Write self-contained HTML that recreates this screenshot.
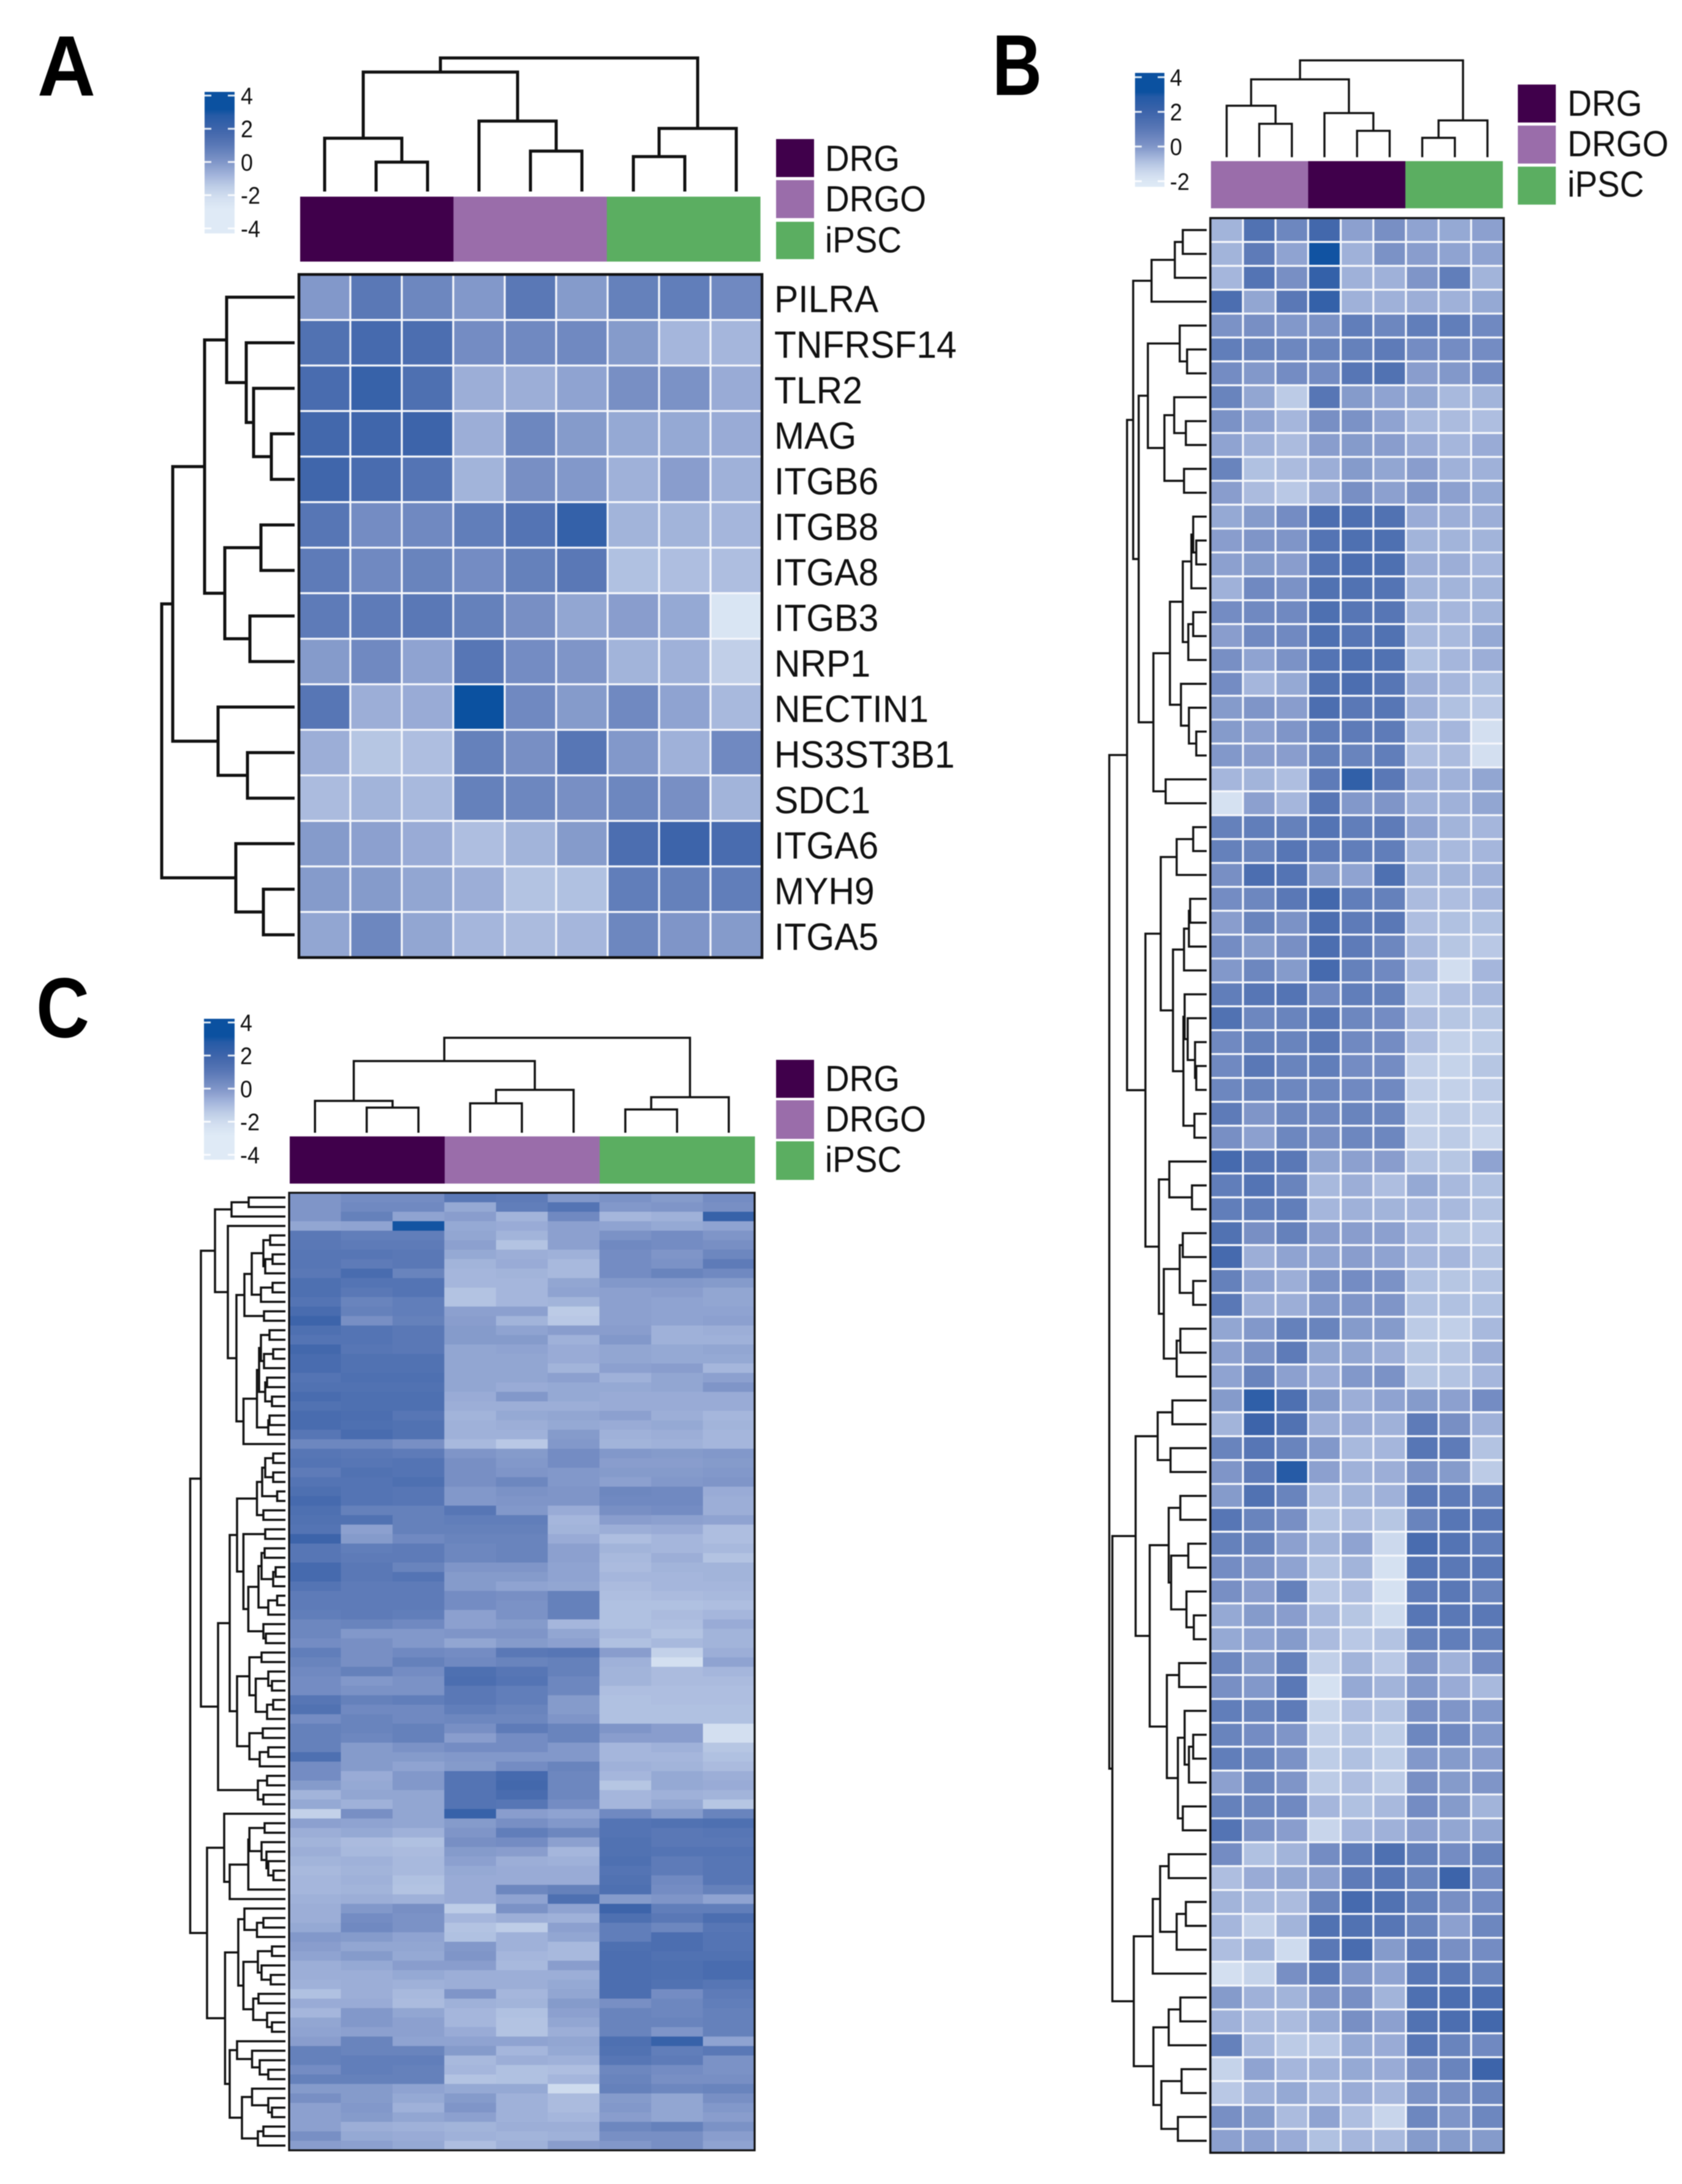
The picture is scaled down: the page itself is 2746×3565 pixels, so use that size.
<!DOCTYPE html>
<html lang="en">
<head>
<meta charset="utf-8">
<title>Clustered heatmaps A, B and C</title>
<style>
html,body{margin:0;padding:0;background:#fff;width:2746px;height:3565px;overflow:hidden}
svg{display:block;font-family:"Liberation Sans",sans-serif;filter:blur(0.8px)}
.legend-text{font-size:59px;fill:#111}
.panel-letter{font-weight:700;fill:#000}
</style>
</head>
<body>
<svg id="fig" xmlns="http://www.w3.org/2000/svg" width="2746" height="3565" viewBox="0 0 2746 3565">
  <defs id="defs"></defs>
  <rect width="2746" height="3565" fill="#fff"/>

  <text class="panel-letter" font-size="140" x="61" y="156" textLength="95" lengthAdjust="spacingAndGlyphs">A</text>
  <text class="panel-letter" font-size="141" x="1620" y="155" textLength="81" lengthAdjust="spacingAndGlyphs">B</text>
  <text class="panel-letter" font-size="139" x="59" y="1693" textLength="87" lengthAdjust="spacingAndGlyphs">C</text>

  <g>
    <rect x="1267" y="227" width="62" height="62" fill="#40004b"/>
    <text class="legend-text" x="1347" y="279" textLength="122" lengthAdjust="spacingAndGlyphs">DRG</text>
    <rect x="1267" y="294" width="62" height="62" fill="#9a6daa"/>
    <text class="legend-text" x="1347" y="345" textLength="165" lengthAdjust="spacingAndGlyphs">DRGO</text>
    <rect x="1267" y="362" width="62" height="61" fill="#5bae61"/>
    <text class="legend-text" x="1347" y="412" textLength="125" lengthAdjust="spacingAndGlyphs">iPSC</text>
  </g>
  <g>
    <rect x="2478" y="138" width="62" height="62" fill="#40004b"/>
    <text class="legend-text" x="2559" y="189" textLength="122" lengthAdjust="spacingAndGlyphs">DRG</text>
    <rect x="2478" y="205" width="62" height="62" fill="#9a6daa"/>
    <text class="legend-text" x="2559" y="255" textLength="165" lengthAdjust="spacingAndGlyphs">DRGO</text>
    <rect x="2478" y="272" width="62" height="62" fill="#5bae61"/>
    <text class="legend-text" x="2559" y="321" textLength="125" lengthAdjust="spacingAndGlyphs">iPSC</text>
  </g>
  <g>
    <rect x="1267" y="1730" width="62" height="62" fill="#40004b"/>
    <text class="legend-text" x="1347" y="1781" textLength="122" lengthAdjust="spacingAndGlyphs">DRG</text>
    <rect x="1267" y="1796" width="62" height="63" fill="#9a6daa"/>
    <text class="legend-text" x="1347" y="1847" textLength="165" lengthAdjust="spacingAndGlyphs">DRGO</text>
    <rect x="1267" y="1863" width="62" height="63" fill="#5bae61"/>
    <text class="legend-text" x="1347" y="1913" textLength="125" lengthAdjust="spacingAndGlyphs">iPSC</text>
  </g>
</svg>

<script>
var geneLabels = ['PILRA','TNFRSF14','TLR2','MAG','ITGB6','ITGB8','ITGA8','ITGB3','NRP1','NECTIN1','HS3ST3B1','SDC1','ITGA6','MYH9','ITGA5'];

var colorbarTicksAC = [4,2,0,-2,-4];
var colorbarTicksB = [4,2,0,-2];

var annotationOrderAC = ['DRG','DRGO','iPSC'];
var annotationOrderB = ['DRGO','DRG','iPSC'];

var valuesA = [
[-0.1,1.0,0.5,-0.1,1.0,-0.2,0.7,0.8,0.4],
[1.3,1.7,1.5,0.3,0.4,0.4,-0.2,-1.2,-1.2],
[1.6,2.2,1.4,-0.9,-0.9,-0.5,0.2,0.1,-0.8],
[1.8,1.9,2.0,-0.9,0.5,-0.2,-0.7,-0.7,-0.8],
[1.9,1.6,1.2,-1.1,0.2,-0.1,-1.0,-0.3,-1.0],
[1.1,0.3,0.4,0.8,1.2,2.3,-1.1,-1.1,-1.2],
[0.9,0.4,0.6,0.3,0.7,1.0,-1.6,-1.5,-1.5],
[0.9,0.9,1.0,0.7,0.2,-0.6,-0.3,-0.7,-3.5],
[-0.2,0.4,-0.5,1.1,0.3,0.0,-1.1,-1.0,-2.2],
[1.1,-0.9,-0.8,4.0,0.4,-0.2,0.4,-0.5,-1.3],
[-0.9,-1.8,-1.5,0.7,0.2,1.1,-0.1,-1.0,0.4],
[-1.4,-1.1,-1.3,0.7,0.5,0.2,0.5,0.2,-1.1],
[-0.2,-0.4,-0.8,-1.5,-1.1,-0.2,1.5,2.0,1.6],
[-0.2,-0.2,-0.6,-0.9,-1.7,-1.6,0.8,0.7,0.8],
[-0.6,0.5,-0.6,-1.2,-1.4,-1.2,0.5,0.0,-0.2]
];

var valuesB = [
[-1.1,1.3,0.5,1.8,-0.4,0.2,-0.5,-0.7,-0.4],
[-1.1,0.9,-0.5,3.7,-1.0,0.1,-0.3,-0.5,-0.5],
[-1.2,1.2,0.2,2.3,-1.0,-1.0,0.0,0.8,-1.1],
[1.5,-0.6,1.0,2.3,-1.0,-1.0,-0.9,-1.0,-0.7],
[0.1,0.2,-0.1,0.1,0.8,0.5,0.8,0.8,0.4],
[0.8,0.6,0.5,0.6,0.7,0.9,0.3,0.3,0.3],
[0.3,-0.1,0.3,0.3,1.1,1.3,-0.3,-0.1,0.3],
[0.6,-0.6,-2.0,1.1,-0.2,-0.5,-0.6,-1.3,-1.1],
[0.1,-0.5,-1.2,0.2,0.1,-0.5,-1.3,-1.4,-1.5],
[-0.5,-1.0,-1.4,-0.3,-0.2,-0.3,-0.8,-1.2,-0.8],
[0.6,-1.6,-1.4,-0.9,-0.2,-0.6,-0.3,-1.0,-1.0],
[-0.3,-1.4,-1.9,-0.9,0.2,-0.4,0.0,-0.4,-0.7],
[-0.7,-0.2,0.3,1.5,1.4,1.3,-0.8,-0.9,-0.9],
[-0.3,0.0,0.0,1.2,1.4,1.4,-1.1,-1.1,-1.1],
[-0.4,-0.2,-0.3,1.2,1.5,1.4,-0.9,-0.9,-1.2],
[-1.0,0.4,0.1,1.3,1.3,1.2,-1.1,-1.1,-1.1],
[0.3,0.4,0.4,1.4,1.1,1.1,-1.1,-1.2,-1.1],
[-0.3,0.4,0.4,1.4,1.1,1.3,-1.3,-1.3,-0.7],
[0.2,-0.5,0.1,1.2,1.4,1.3,-1.6,-1.2,-0.9],
[0.3,-1.2,-0.7,1.3,1.5,1.1,-0.9,-1.2,-1.6],
[-0.2,0.0,-0.3,1.5,1.0,1.1,-1.0,-1.6,-1.9],
[-0.2,-0.4,0.0,0.8,0.9,0.9,-1.3,-1.2,-3.0],
[-0.1,-0.3,-0.3,0.7,0.6,0.8,-1.5,-1.4,-3.0],
[-1.2,-1.1,-1.5,0.9,2.4,1.0,-0.9,-1.0,-0.6],
[-3.2,-0.4,-1.2,1.1,-0.1,0.0,-1.0,-1.0,-0.6],
[0.7,0.8,0.7,1.2,0.8,0.9,-0.5,-1.1,-1.2],
[0.7,0.6,1.1,0.9,0.8,0.8,-1.1,-1.3,-1.2],
[0.2,1.5,1.2,-0.2,-0.5,1.4,-1.1,-1.1,-1.0],
[0.3,0.5,1.0,1.8,0.8,0.7,-1.4,-1.5,-1.2],
[-0.3,0.6,0.1,1.5,0.9,1.0,-1.5,-1.6,-1.6],
[0.3,-0.2,0.2,1.5,0.9,0.5,-1.3,-1.8,-1.9],
[-0.1,0.5,-0.2,1.7,0.7,0.4,-1.3,-2.9,-1.2],
[0.8,1.1,1.2,0.4,0.8,0.7,-1.9,-1.5,-1.3],
[1.3,0.5,0.6,1.1,0.5,0.3,-1.4,-1.8,-1.8],
[0.4,0.7,0.6,1.0,0.4,0.3,-1.5,-2.3,-2.1],
[0.4,1.0,0.6,0.8,0.3,0.3,-2.2,-2.4,-1.8],
[0.5,0.6,0.5,0.5,0.4,0.4,-2.2,-2.3,-2.0],
[0.9,0.0,0.5,0.4,0.6,0.5,-2.2,-2.0,-2.2],
[0.2,-0.4,0.5,0.2,0.5,0.5,-2.2,-2.0,-2.5],
[1.7,1.1,1.0,-0.6,-0.4,-0.3,-1.7,-1.8,-0.5],
[0.8,1.2,0.6,-1.3,-0.9,-1.5,-0.7,-1.3,-1.6],
[0.8,0.8,0.8,-1.2,-1.0,-1.1,-1.2,-1.3,-1.7],
[1.3,0.2,0.7,-0.3,-0.3,-0.4,-1.2,-1.8,-1.9],
[1.7,-0.9,-0.5,-0.5,-0.3,-0.5,-1.2,-1.2,-1.7],
[0.7,-0.5,-0.9,0.1,0.3,0.1,-1.6,-1.8,-1.7],
[1.0,-0.9,-0.9,-0.1,0.0,0.0,-1.6,-1.6,-1.6],
[-0.6,-0.1,0.7,0.6,-0.2,-0.2,-2.0,-2.2,-1.3],
[-0.4,0.1,0.9,-0.6,-0.6,-0.9,-1.8,-1.7,-0.9],
[-0.5,0.6,-0.4,-0.8,-0.1,0.1,-1.8,-1.7,-1.2],
[-0.2,2.5,1.4,-0.2,-0.9,-0.5,-0.2,-0.4,0.3],
[-1.1,2.0,1.3,-0.9,-0.8,-1.0,0.9,0.2,-1.0],
[0.6,1.1,0.6,-0.1,-1.3,-1.2,1.1,0.9,-1.7],
[0.0,0.9,2.8,-0.4,-1.0,-0.9,0.1,-0.2,-2.0],
[-0.2,1.3,0.6,-1.4,-1.1,-1.0,1.0,0.9,0.7],
[1.1,0.6,0.2,-1.7,-1.4,-1.8,0.6,1.1,1.0],
[0.7,0.6,-0.4,-1.1,-0.5,-2.7,1.6,1.2,0.8],
[0.3,0.0,-0.5,-1.7,-1.1,-3.2,1.2,1.0,1.0],
[0.2,-0.3,0.7,-1.9,-1.5,-3.2,0.9,1.0,0.6],
[-0.7,-0.2,-0.3,-1.3,-1.8,-2.8,1.1,1.0,1.0],
[-0.7,-0.5,-0.2,-1.4,-1.9,-1.7,0.7,0.8,0.7],
[0.5,-0.2,0.7,-2.2,-1.1,-1.9,0.0,-1.0,0.3],
[0.2,-0.1,1.0,-3.2,-0.7,-1.1,-0.1,-0.8,-1.3],
[0.8,0.6,0.9,-2.4,-1.5,-1.7,0.2,0.0,-0.1],
[0.6,0.3,0.0,-2.2,-1.7,-2.1,0.5,0.4,-0.1],
[0.8,0.6,0.1,-2.1,-1.6,-2.1,-0.1,-0.2,-0.3],
[-0.4,0.5,0.0,-2.0,-1.5,-2.0,0.2,-0.2,0.0],
[0.7,0.5,0.4,-1.2,-1.6,-1.3,0.3,-0.2,-1.1],
[1.2,0.1,-0.3,-2.5,-1.2,-1.0,-0.4,-0.6,-0.6],
[0.3,-1.6,-1.1,0.3,0.8,1.4,0.7,0.3,0.6],
[-1.5,-0.8,-0.6,-0.4,0.9,1.1,0.6,2.0,0.3],
[-1.1,-1.3,-1.4,0.6,1.7,1.3,0.7,0.2,0.3],
[-1.2,-2.2,-1.1,1.3,1.3,1.1,0.6,-0.4,0.5],
[-1.5,-1.1,-2.8,1.0,1.6,-0.2,0.9,0.2,0.3],
[-3.0,-2.4,0.2,1.0,0.0,-0.5,1.1,1.0,0.6],
[-0.2,-1.0,-1.1,0.0,0.2,-1.1,1.4,1.5,1.5],
[-1.0,-1.4,-1.4,-0.7,0.2,-0.4,1.3,1.5,1.8],
[0.7,-1.3,-2.0,-1.9,-0.7,-0.8,1.1,0.6,0.4],
[-2.4,-0.5,-1.2,-1.0,-0.7,-0.8,0.2,0.6,2.0],
[-1.9,-1.0,-0.7,-1.2,-0.8,-1.2,0.1,0.2,0.5],
[0.2,-0.2,-1.4,-0.5,-1.5,-2.5,0.5,0.0,0.5],
[-0.4,-0.4,-0.8,-1.6,-1.2,-1.3,-0.2,-0.2,-0.2]
];

var valuesC = [
[0.0,0.3,0.3,1.0,0.9,-0.1,0.1,-0.2,0.3],
[0.0,0.4,0.4,-0.7,0.8,1.2,-0.1,0.0,0.2],
[0.0,0.7,-0.5,-0.3,-1.1,0.4,-1.2,-1.0,2.2],
[-0.6,-0.5,3.6,-0.7,-0.8,-0.4,-0.5,-0.7,-0.5],
[1.0,0.8,0.8,-0.6,-1.1,-0.4,0.1,0.3,0.0],
[1.0,0.9,0.9,-0.4,-1.7,-0.4,0.4,0.3,0.2],
[1.1,1.1,1.0,-0.7,-0.9,-1.0,0.3,0.0,0.5],
[1.1,0.9,1.0,-1.1,-0.8,-1.3,0.3,0.1,0.9],
[1.0,1.6,0.6,-1.2,-1.1,-1.3,0.3,0.6,0.4],
[1.4,1.2,1.2,-1.2,-1.2,-0.6,-0.1,-0.1,-0.2],
[1.4,1.0,1.2,-1.7,-1.2,-0.5,-0.4,-0.3,-0.6],
[1.2,0.6,0.8,-1.7,-1.2,-1.1,-0.4,-0.5,-0.6],
[1.6,0.7,0.8,-0.4,-0.4,-2.0,-0.4,-0.5,-0.5],
[2.0,0.2,0.7,-0.3,-1.1,-1.9,-0.4,-0.5,-0.4],
[1.4,1.2,1.0,-0.2,-0.5,-0.3,-0.3,-1.0,-0.9],
[1.2,1.2,1.0,-0.2,-0.2,-1.0,-0.1,-1.0,-1.0],
[1.8,1.1,1.0,-0.6,-0.5,-0.8,-0.6,-0.7,-0.6],
[1.6,1.3,1.3,-0.6,-0.6,-0.8,-0.6,-0.7,-0.7],
[1.6,1.3,1.3,-0.6,-0.6,-1.1,-0.4,-0.3,-1.2],
[1.2,1.4,1.4,-0.6,-0.6,-0.4,-1.0,-0.6,-0.4],
[1.3,1.3,1.3,-0.6,-0.8,-0.7,-0.7,-0.6,0.0],
[1.6,1.4,1.4,-0.8,-0.1,-0.7,-0.8,-0.8,-0.8],
[1.3,1.4,1.4,-0.9,-0.9,-0.9,-0.8,-0.8,-0.8],
[1.6,1.5,1.1,-1.1,-0.7,-0.6,-0.4,-0.9,-1.2],
[1.6,1.4,1.3,-1.0,-0.9,-0.7,-0.8,-0.7,-1.1],
[1.1,1.6,1.3,-1.0,-1.0,-0.2,-1.0,-0.9,-1.2],
[0.5,0.5,0.2,-1.3,-1.9,-0.1,-1.1,-1.0,-1.2],
[1.1,1.0,0.9,0.0,-0.2,0.3,-0.1,-0.2,-0.1],
[1.2,1.1,1.2,0.2,-0.1,0.3,-0.3,-0.3,-0.2],
[0.9,1.3,1.2,0.2,0.0,-0.1,-0.2,-0.2,-0.1],
[1.2,1.2,1.4,0.2,0.5,-0.1,-0.4,-0.1,0.0],
[1.4,1.2,1.1,-0.1,0.1,0.0,0.5,0.4,-0.8],
[1.7,1.2,1.1,-0.1,0.0,0.0,0.4,0.4,-0.9],
[1.4,0.7,0.7,1.1,-0.1,-0.8,0.2,0.3,-0.9],
[1.3,1.3,0.7,0.8,0.8,-1.2,-0.3,-0.4,-0.5],
[1.2,-0.4,0.7,0.7,0.7,-1.1,-0.9,-0.8,-1.5],
[2.0,-0.2,0.4,0.6,0.6,-0.8,-1.5,-1.2,-1.5],
[1.1,0.8,0.9,0.5,0.6,-0.4,-1.1,-1.2,-1.3],
[1.1,0.9,0.9,0.5,0.6,-0.4,-1.3,-0.9,-1.7],
[1.7,1.0,0.6,0.0,0.0,-0.5,-1.4,-1.1,-1.1],
[1.7,1.0,1.2,-0.2,-0.2,-0.5,-1.2,-1.2,-1.1],
[1.2,0.9,0.9,-0.2,-0.5,-0.6,-1.4,-1.2,-1.2],
[0.9,0.9,0.9,0.3,0.2,0.7,-1.5,-1.4,-1.3],
[0.9,0.9,0.9,0.3,0.1,0.7,-1.6,-1.6,-1.5],
[0.8,0.9,0.8,-0.4,0.1,0.7,-1.6,-1.4,-1.2],
[0.5,0.6,0.4,-0.4,-0.2,-1.2,-1.6,-1.5,-0.8],
[0.5,-0.1,-0.1,0.0,0.0,-0.6,-1.3,-1.7,-1.1],
[0.3,0.2,-0.1,-0.6,-0.2,-0.4,-1.6,-1.3,-1.1],
[0.8,0.2,0.4,0.3,1.0,1.1,-0.3,-2.3,-0.9],
[0.6,0.2,0.7,0.4,0.6,0.7,-1.0,-3.0,-0.5],
[0.4,0.7,0.3,1.4,1.1,0.7,-1.1,-1.4,-1.2],
[0.3,-0.1,0.1,1.5,1.2,0.5,-1.1,-1.4,-1.4],
[0.3,0.1,0.1,1.0,0.8,0.5,-1.5,-1.5,-1.5],
[1.1,0.7,0.8,1.0,0.8,-0.2,-1.6,-1.5,-1.5],
[1.3,0.4,0.4,0.8,0.6,-0.2,-1.6,-1.6,-1.6],
[0.3,0.6,0.4,0.5,0.5,0.0,-1.6,-1.6,-1.6],
[0.7,0.6,0.7,0.2,0.9,0.6,0.0,-0.3,-3.0],
[0.7,0.5,0.7,-0.3,0.3,0.6,-0.3,-0.3,-3.0],
[0.7,-0.2,0.1,0.3,0.3,-0.1,-1.2,-1.0,-1.8],
[1.4,-0.2,-0.2,-0.1,-0.1,-0.1,-1.2,-1.2,-1.6],
[0.3,-0.2,-0.5,-0.2,0.3,0.6,-1.0,-1.1,-1.4],
[0.3,-0.8,-0.1,1.2,1.7,0.5,-1.2,-0.7,-0.9],
[-0.2,-0.7,-0.1,1.2,1.8,0.5,-1.8,-0.7,-0.8],
[-1.1,-0.6,-0.6,1.2,1.6,0.5,-1.2,-1.0,-1.1],
[-0.7,-1.0,-0.6,1.2,1.1,0.3,-1.2,-0.7,-1.8],
[-2.3,0.2,-0.6,2.2,-0.3,-0.5,0.4,-0.2,0.6],
[-0.4,-0.5,-0.6,-0.2,0.2,-0.1,1.2,1.3,1.4],
[-0.9,-0.7,-1.0,0.0,0.8,0.5,1.2,1.0,1.1],
[-1.1,-1.4,-1.6,0.2,0.3,-0.4,1.3,1.0,1.0],
[-0.9,-1.3,-1.4,-0.2,-0.3,-1.2,1.3,1.2,1.2],
[-1.1,-1.0,-1.3,-0.4,-0.9,-1.0,1.4,0.9,1.1],
[-1.3,-1.1,-1.3,-0.7,-0.8,-0.8,1.2,0.9,1.1],
[-1.2,-1.0,-1.6,-0.8,-0.8,-0.8,1.3,0.4,1.1],
[-1.2,-1.1,-1.7,-0.8,0.5,0.7,1.4,0.3,0.7],
[-1.0,-0.9,-1.0,-0.8,-0.5,1.4,-0.2,0.0,-0.5],
[-0.9,-0.1,0.2,-2.1,0.1,-0.5,2.0,0.8,0.8],
[-0.9,0.3,0.1,-1.2,-0.9,-1.0,1.4,1.0,1.5],
[-0.7,0.4,0.1,-1.7,-2.1,-0.4,0.8,0.5,1.1],
[-0.1,-0.2,-0.5,-1.6,-1.0,-0.6,0.8,1.5,1.2],
[-0.3,-0.6,-0.6,-0.1,-1.0,-1.3,1.4,1.5,1.2],
[-0.5,-0.2,-0.7,0.0,-1.2,-1.3,1.5,1.3,1.3],
[-0.9,-0.7,-0.3,-0.3,-1.3,-0.3,1.5,1.4,1.6],
[-0.9,-0.9,-0.7,-0.9,-0.9,-0.9,1.5,1.4,1.6],
[-1.0,-0.9,-1.0,-0.9,-0.9,-0.7,1.5,1.3,1.1],
[-1.6,-0.9,-1.3,0.0,-1.2,-0.6,1.5,0.3,0.9],
[-0.8,-0.8,-1.4,-1.0,-1.1,-0.2,0.2,0.5,0.8],
[-1.2,-0.1,-0.6,-1.2,-1.6,-0.4,0.6,0.5,0.7],
[-0.6,-0.1,-0.4,-1.2,-1.7,-0.6,0.6,0.6,0.7],
[-0.5,-0.4,-0.4,-0.8,-1.7,-0.9,0.6,0.0,0.7],
[-0.3,0.6,-0.5,-0.5,-0.5,-0.6,1.4,2.2,-0.5],
[0.7,0.6,0.6,-0.2,-1.2,-0.7,1.3,0.8,1.0],
[0.7,0.8,0.8,-1.3,-0.9,-1.0,1.1,0.9,0.1],
[0.3,0.8,0.7,-1.2,-1.6,-1.5,0.5,0.3,0.1],
[0.7,0.7,0.7,-1.7,-1.6,-1.2,0.6,0.2,0.2],
[-0.2,-0.2,-0.5,-0.7,-0.7,-2.8,0.7,0.5,0.6],
[0.2,-0.2,-0.7,-0.2,-1.0,-1.4,-0.2,-0.6,0.2],
[-0.4,-0.1,-1.0,0.0,-1.0,-1.4,-0.1,-0.6,-0.1],
[-0.4,-0.2,-0.6,-0.4,-1.0,-1.2,-0.3,-0.6,-0.3],
[-0.4,-0.9,-1.0,-1.1,-0.9,-0.9,0.5,0.7,0.1],
[0.2,-0.7,-0.8,-1.0,-1.1,-1.0,0.2,0.2,-0.3],
[-0.3,-0.4,-0.7,-1.5,-1.0,-0.3,-0.1,0.2,-0.5]
];

/* Dendrograms: [merge height, child, child]; a bare number is a leaf index. */
var colTreeA = [218,[195,[87,0,[48,1,2]],[115,3,[66,4,5]]],[103,[57,6,7],8]];
var colTreeB = [158,[127,[84,0,[54.5,1,2]],[72,3,[43,4,5]]],[60,[31.6,6,7],8]];
var colTreeC = [155,[117,[52,0,[41,1,2]],[70,[48,3,4],5]],[58,[38,6,7],8]];

var rowTreeA = [217,[199,[147,[111,0,[79,1,[67,2,[38,3,4]]]],[114,[55,5,6],[73,7,8]]],[125,9,[77,10,11]]],[96,12,[51,13,14]]];

var rowTreeB = [159,
 [130,
  [120,[90,[52,[39,0,1],2],3],
   [111,
    [96,[44,4,[32,5,6]],[69,[53,7,[34,8,9]],[37,10,11]]],
    [87,
     [60,[39,[25,[22,12,[17,13,14]],15],[30,[22,16,17],18]],[42,19,[29,20,[17,21,22]]]],
     [67,23,24]]]],
  [100,
   [75,[49,[22,25,26],27],
    [55,[37,[29,[27,28,29],30],31],
     [38,[36,32,[31,33,[19,34,[17,35,36]]]],[20,37,38]]]],
   [78,[61,39,[24,40,41]],
    [70,[44,[39,42,43],[22,44,45]],[49,[43,46,47],48]]]]],
 [154,
  [116,[80,[56,49,50],[59,51,52]],
   [93,
    [62,[43,53,54],[58,[30,55,56],[33,57,[21,58,59]]]],
    [65,[45,60,61],[47,[36,62,[29,[22,63,64],65]],[39,66,67]]]]],
  [119,
   [88,[76,[62,68,69],[49,[34,70,71],72]],73],
   [87,[62,[43,74,75],76],[74,[41,77,78],[47,79,80]]]]]];

var rowTreeC = [155.5,
 [138,
  [115,[88,[60,0,1],2],
   [94,3,
    [80,
     [67,[55,[36,[25,4,5],[33,[21,6,7],8]],[40,[21,9,10],11]],[35,12,13]],
     [68.5,
      [46.5,[43,[40,[26,14,15],[35,[20,16,17],18]],[33,[30,19,20],[22,21,22]]],[28,[26,23,24],25]],
      26]]]],
  [110,
   [91,
    [79,
     [46.5,[38,[33,[20,27,28],[20,29,30]],[13.5,31,32]],[36,33,34]],
     [68.6,[33,35,36],
      [60.6,[44,[39,[34,37,38],[20,[16,39,40],41]],[28,[13.5,42,43],44]],[36,45,[32,46,47]]]]],
    [79,
     [58.8,[39,48,49],[48.5,[28,50,[22,51,52]],[30,[20,53,54],55]]],
     [58.8,[37,56,57],[42,[28,58,59],60]]]],
   [45,[30,61,62],[36,63,64]]]],
 [128,
  [100,65,[91,[60.6,[58.8,[34,66,67],[39,68,[31,69,[28,70,[19.6,71,72]]]]],73],74]],
  [98.6,
   [77,[67,75,[46.5,[36,76,77],78]],
    [68.6,[45,[22,79,80],[39,81,[24,82,83]]],[52.6,[44,84,85],[30,86,[22,87,88]]]]],
   [91,[79,89,[54.5,90,[42,91,[28,92,93]]]],
    [71,[54.5,94,[28,95,[22,96,97]]],[45,[36,98,99],100]]]]]];

var NS = 'http://www.w3.org/2000/svg';
var svg = document.getElementById('fig');
var defs = document.getElementById('defs');
var groupColors = {DRG:'#40004b', DRGO:'#9a6daa', iPSC:'#5bae61'};
var colorStops = [[-4,223,234,246],[-3,211,223,240],[-2,188,203,230],[-1,159,177,217],[0,127,149,200],[1,90,120,182],[2,61,100,170],[3,32,89,165],[4,11,81,160]];

function colorOf(v){
  var c = Math.max(-4, Math.min(4, v));
  for (var k = 0; k < colorStops.length - 1; k++) {
    var a = colorStops[k], b = colorStops[k + 1];
    if (c <= b[0]) {
      var t = (c - a[0]) / (b[0] - a[0]);
      return 'rgb(' + Math.round(a[1] + (b[1] - a[1]) * t) + ',' + Math.round(a[2] + (b[2] - a[2]) * t) + ',' + Math.round(a[3] + (b[3] - a[3]) * t) + ')';
    }
  }
  return 'rgb(11,81,160)';
}

function make(tag, parent){
  var el = document.createElementNS(NS, tag);
  parent.appendChild(el);
  return el;
}

function drawHeatmap(parent, values, left, top, width, height, gridWidth){
  var rows = values.length, cols = values[0].length;
  var colX = function(j){ return left + j * width / cols; };
  var rowY = function(i){ return top + i * height / rows; };
  var g = make('g', parent);
  
  
  for (var i = 0; i < rows; i++) {
    for (var j = 0; j < cols; j++) {
      var r = make('rect', g);
      
      
      r.setAttribute('x', colX(j));
      r.setAttribute('y', rowY(i));
      r.setAttribute('width', width / cols + (gridWidth ? 0 : 0.6));
      r.setAttribute('height', height / rows + (gridWidth ? 0 : 0.6));
      r.setAttribute('fill', colorOf(values[i][j]));
      if (gridWidth) {
        r.setAttribute('stroke', '#f4f6fb');
        r.setAttribute('stroke-width', gridWidth);
      }
    }
  }
}

function drawFrame(parent, left, top, width, height, lineWidth){
  var b = make('rect', parent);
  
  
  b.setAttribute('x', left);
  b.setAttribute('y', top);
  b.setAttribute('width', width);
  b.setAttribute('height', height);
  b.setAttribute('fill', 'none');
  b.setAttribute('stroke', '#111');
  b.setAttribute('stroke-width', lineWidth);
}

/* place(leafPos, height) returns an [x, y] point, so both orientations share the walk */
function drawTree(parent, tree, leafPos, place, lineWidth, name){
  var g = make('g', parent);
  
  
  function walk(node){
    if (typeof node === 'number') { return {pos: leafPos(node), h: 0}; }
    var a = walk(node[1]), b = walk(node[2]);
    var p1 = place(a.pos, a.h), p2 = place(a.pos, node[0]), p3 = place(b.pos, node[0]), p4 = place(b.pos, b.h);
    var path = make('path', g);
    
    
    path.setAttribute('d', 'M' + p1 + 'L' + p2 + 'L' + p3 + 'L' + p4);
    path.setAttribute('fill', 'none');
    path.setAttribute('stroke', '#111');
    path.setAttribute('stroke-width', lineWidth);
    path.setAttribute('stroke-linejoin', 'miter');
    return {pos: (a.pos + b.pos) / 2, h: node[0]};
  }
  walk(tree);
}

function drawAnnotation(parent, order, left, top, width, height){
  var g = make('g', parent);
  
  
  for (var k = 0; k < order.length; k++) {
    var r = make('rect', g);
    
    
    r.setAttribute('x', left + k * width / order.length);
    r.setAttribute('y', top);
    r.setAttribute('width', width / order.length + 0.5);
    r.setAttribute('height', height);
    r.setAttribute('fill', groupColors[order[k]]);
  }
}

function drawColorbar(parent, id, ticks, left, right, yTop, yBottom, y4, pxPerUnit, labelX, legendColor){
  var yOf = function(v){ return y4 + (4 - v) * pxPerUnit; };
  var vOf = function(y){ return 4 - (y - y4) / pxPerUnit; };
  var grad = make('linearGradient', defs);
  grad.setAttribute('id', id);
  grad.setAttribute('x1', '0');
  grad.setAttribute('y1', '0');
  grad.setAttribute('x2', '0');
  grad.setAttribute('y2', '1');
  for (var s = 0; s <= 24; s++) {
    var st = make('stop', grad);
    st.setAttribute('offset', s / 24);
    st.setAttribute('stop-color', legendColor(vOf(yTop + (yBottom - yTop) * s / 24)));
  }
  var g = make('g', parent);
  
  
  var bar = make('rect', g);
  
  
  bar.setAttribute('x', left);
  bar.setAttribute('y', yTop);
  bar.setAttribute('width', right - left);
  bar.setAttribute('height', yBottom - yTop);
  bar.setAttribute('fill', 'url(#' + id + ')');
  ticks.forEach(function(v){
    var y = yOf(v);
    [left, right - 11].forEach(function(x){
      var t = make('rect', g);
      
      
      t.setAttribute('x', x);
      t.setAttribute('y', y - 1.5);
      t.setAttribute('width', 11);
      t.setAttribute('height', 3);
      t.setAttribute('fill', '#fff');
      t.setAttribute('fill-opacity', '0.85');
    });
    var lab = make('text', g);
    
    
    lab.setAttribute('x', labelX);
    lab.setAttribute('y', y + 14);
    lab.setAttribute('font-size', '39');
    lab.setAttribute('fill', '#111');
    lab.textContent = String(v);
    lab.setAttribute('textLength', lab.getComputedTextLength() * 0.92);
    lab.setAttribute('lengthAdjust', 'spacingAndGlyphs');
  });
}

function drawRowLabels(parent, labels, x, top, height){
  var g = make('g', parent);
  
  
  labels.forEach(function(label, i){
    var t = make('text', g);
    
    
    t.setAttribute('x', x);
    t.setAttribute('y', top + (i + 0.5) * height / labels.length + 24.5);
    t.setAttribute('font-size', '62');
    t.setAttribute('fill', '#111');
    t.textContent = label;
    t.setAttribute('textLength', t.getComputedTextLength() * 0.95);
    t.setAttribute('lengthAdjust', 'spacingAndGlyphs');
  });
}

function panel(name){
  var g = make('g', svg);
  
  
  return g;
}

/* Legend ramps fade to pale blue faster below zero than the cell colours read above */
function legendColorAC(v){ return colorOf(v > 3 ? 4 : (v < 0 ? Math.max(v * 1.4, -4) : v)); }
function legendColorB(v){ return colorOf(v > 3 ? 4 : (v < 0 ? v * 1.8 : v)); }

/* Panel A */
var pa = panel('panel-a');
drawHeatmap(pa, valuesA, 488, 448, 756, 1115, 3.2);
drawFrame(pa, 488, 448, 756, 1115, 4.5);
drawAnnotation(pa, annotationOrderAC, 490, 321, 751, 106);
drawTree(pa, colTreeA, function(j){ return 488 + (j + 0.5) * 756 / 9; }, function(p, h){ return [p, 312.6 - h]; }, 5, 'column-dendrogram');
drawTree(pa, rowTreeA, function(i){ return 448 + (i + 0.5) * 1115 / 15; }, function(p, h){ return [481 - h, p]; }, 5, 'row-dendrogram');
drawRowLabels(pa, geneLabels, 1264, 448, 1115);
drawColorbar(pa, 'rampA', colorbarTicksAC, 334, 383, 150, 381, 156, 27.1, 393, legendColorAC);

/* Panel B */
var pb = panel('panel-b');
drawHeatmap(pb, valuesB, 1976, 356, 479, 3158, 3.2);
drawFrame(pb, 1976, 356, 479, 3158, 3.5);
drawAnnotation(pb, annotationOrderB, 1977, 263, 476, 77);
drawTree(pb, colTreeB, function(j){ return 1976 + (j + 0.5) * 479 / 9; }, function(p, h){ return [p, 256.6 - h]; }, 3.4, 'column-dendrogram');
drawTree(pb, rowTreeB, function(i){ return 356 + (i + 0.5) * 3158 / 81; }, function(p, h){ return [1970 - h, p]; }, 3.4, 'row-dendrogram');
drawColorbar(pb, 'rampB', colorbarTicksB, 1853, 1901, 119, 305, 126, 28.3, 1910, legendColorB);

/* Panel C */
var pc = panel('panel-c');
drawHeatmap(pc, valuesC, 472, 1947, 760, 1563, 0);
drawFrame(pc, 472, 1947, 760, 1563, 3.2);
drawAnnotation(pc, annotationOrderAC, 473, 1855, 759, 77);
drawTree(pc, colTreeC, function(j){ return 472 + (j + 0.5) * 760 / 9; }, function(p, h){ return [p, 1849 - h]; }, 3.5, 'column-dendrogram');
drawTree(pc, rowTreeC, function(i){ return 1947 + (i + 0.5) * 1563 / 101; }, function(p, h){ return [466 - h, p]; }, 3.5, 'row-dendrogram');
drawColorbar(pc, 'rampC', colorbarTicksAC, 333, 383, 1663, 1893, 1669, 27, 392, legendColorAC);
</script>
</body>
</html>
